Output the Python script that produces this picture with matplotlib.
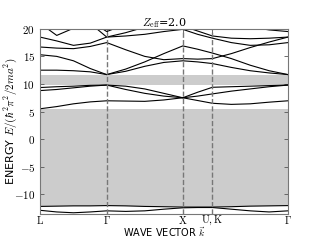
import numpy as np
import matplotlib
matplotlib.use('Agg')
import matplotlib.pyplot as plt
from matplotlib.ticker import FuncFormatter

plt.rcParams['mathtext.fontset'] = 'cm'

# k path: L -> Gamma -> X -> U,K -> Gamma (sample positions along the path)
k_path = [0.0, 0.22, 0.44, 0.66, 0.877, 1.127, 1.377, 1.627, 1.877, 2.072, 2.267, 2.515, 2.763, 3.012, 3.26]
k_ticks = [0.0, 0.877, 1.877, 2.267, 3.26]
k_labels = [r'$\mathrm{L}$', r'$\Gamma$', r'$\mathrm{X}$', r'$\mathrm{U,K}$', r'$\Gamma$']

# energies of each band at the k samples
band_lo1 = [-12.2, -12.15, -12.1, -12.1, -12.05, -12.1, -12.2, -12.25, -12.3, -12.3, -12.3, -12.25, -12.15, -12.1, -12.05]
band_lo2 = [-12.9, -13.2, -13.35, -13.2, -13.0, -13.1, -13.0, -12.7, -12.45, -12.4, -12.4, -12.7, -13.0, -13.2, -13.0]
band_1 = [5.5, 5.9, 6.4, 6.75, 6.95, 6.9, 6.85, 7.1, 7.5, 7.0, 6.5, 6.3, 6.4, 6.7, 6.95]
band_2 = [8.8, 9.0, 9.3, 9.6, 9.8, 9.0, 8.3, 7.8, 7.5, 7.8, 8.2, 8.7, 9.1, 9.5, 9.8]
band_3 = [9.35, 9.5, 9.6, 9.75, 9.8, 9.6, 9.1, 8.3, 7.5, 8.5, 9.4, 9.5, 9.6, 9.7, 9.8]
band_4 = [12.5, 12.5, 12.4, 12.2, 11.7, 12.3, 13.2, 13.9, 14.2, 14.0, 13.7, 13.0, 12.4, 12.0, 11.7]
band_5 = [15.3, 15.0, 14.2, 12.8, 11.7, 12.7, 14.0, 15.5, 16.9, 16.3, 15.6, 14.6, 13.4, 12.4, 11.7]
band_6 = [16.7, 16.5, 16.4, 16.8, 17.5, 16.2, 15.0, 14.4, 14.6, 14.5, 14.6, 15.5, 16.6, 17.6, 18.5]
band_7 = [18.5, 17.8, 17.0, 17.4, 18.5, 18.7, 19.0, 19.5, 19.9, 19.0, 18.3, 17.5, 17.0, 17.1, 17.5]
band_8 = [21.5, 21.5, 21.5, 21.0, 18.5, 19.3, 20.3, 21.5, 20.5, 19.6, 18.7, 18.3, 18.2, 18.3, 18.5]
band_9 = [21.0, 18.8, 20.1, 21.5, 19.5, 20.8, 21.5, 21.5, 21.0, 21.0, 21.0, 21.0, 20.3, 19.8, 19.5]

bands = [band_lo1, band_lo2, band_1, band_2, band_3, band_4, band_5, band_6, band_7, band_8, band_9]

fig = plt.figure(figsize=(3.2, 2.4), dpi=100)
ax = fig.add_subplot(111)

# band gaps
ax.axhspan(max(band_lo1), min(band_1), color='#cccccc', lw=0, zorder=0)
ax.axhspan(max(band_3), min(band_4), color='#cccccc', lw=0, zorder=0)

for b in bands:
    ax.plot(k_path, b, color='black', lw=0.8)

for k in k_ticks[1:-1]:
    ax.axvline(k, color='#777777', ls='--', lw=1.0)

ax.set_xlim(k_ticks[0], k_ticks[-1])
ax.set_ylim(-13.5, 20)
ax.set_xticks(k_ticks)
ax.set_xticklabels(k_labels)
ax.set_yticks([-10, -5, 0, 5, 10, 15, 20])
ax.yaxis.set_major_formatter(FuncFormatter(lambda v, p: r'$%d$' % v))
ax.tick_params(direction='in', labelsize=8, top=True, right=True, length=3, width=0.6, color='#555555')
ax.tick_params(axis='x', pad=0, labelsize=7.5)
for s in ax.spines.values():
    s.set_color('#777777')
    s.set_linewidth(0.8)

ax.set_ylabel(r'ENERGY $E/(\hbar^2\pi^2/2ma^2)$', fontsize=8)
ax.yaxis.set_label_coords(-0.085, 0.5)
ax.set_xlabel(r'WAVE VECTOR $\vec{k}$', fontsize=7, va='center')
ax.xaxis.set_label_coords(0.5, -0.099)
ax.set_title(r'$Z_{\rm eff}$=2.0', fontsize=8, family='serif', pad=2)

fig.savefig('out.png', dpi=100)
